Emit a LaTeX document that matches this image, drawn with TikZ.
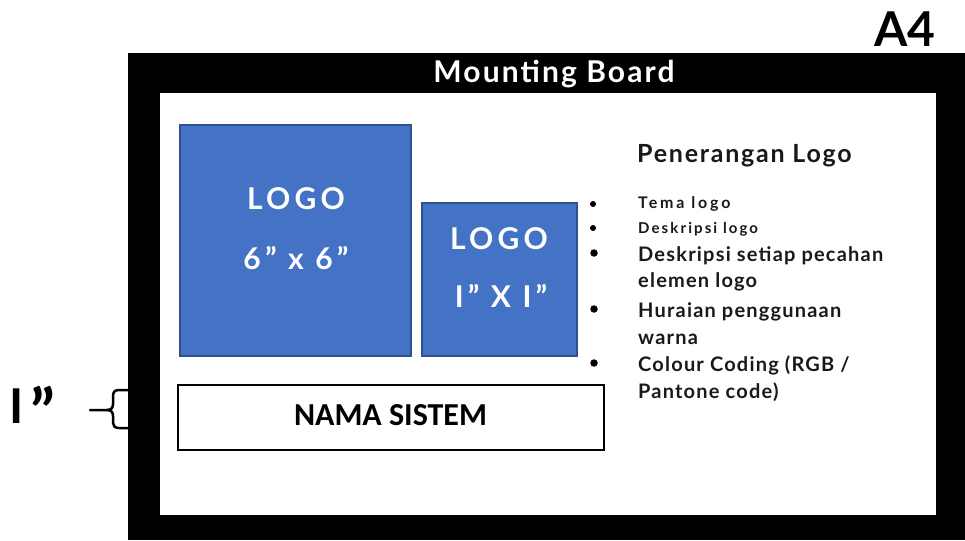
\documentclass[tikz,border=0pt]{standalone}
\usepackage{fontspec}
\setmainfont{Lato}
\newfontfamily\namafont{Carlito}
\definecolor{logoblue}{HTML}{4472C4}
\definecolor{logoedge}{HTML}{2F528F}
\tikzset{
  x=1pt,y=-1pt,
  logobox/.style={draw=logoedge,line width=2pt,fill=logoblue,inner sep=0pt,outer sep=0pt,anchor=north west},
  logotext/.style={anchor=base,inner sep=0pt,text=white,font=\bfseries\fontsize{30}{36}\selectfont\addfontfeature{LetterSpace=14}},
  info/.style={anchor=west,inner sep=0pt,align=left,text=black!90,font=\bfseries\fontsize{20}{26.5}\selectfont\addfontfeature{LetterSpace=6}},
  infosmall/.style={anchor=base west,inner sep=0pt,text=black!90,font=\bfseries\fontsize{15}{18}\selectfont\addfontfeature{LetterSpace=14}},
  bullet/.style={circle,fill=black,inner sep=0pt,minimum size=7.5pt},
  bulletsmall/.style={circle,fill=black,inner sep=0pt,minimum size=6pt},
}
\begin{document}
\begin{tikzpicture}
\useasboundingbox (0,0) rectangle (965,540);
\fill[white] (0,0) rectangle (965,540);
\fill[black] (128,53) rectangle (965,540);
\node[fill=white,inner sep=0pt,outer sep=0pt,minimum width=776pt,minimum height=422pt,anchor=north west] (inner) at (160,93) {};
\node[anchor=base,text=white,font=\bfseries\fontsize{30}{36}\selectfont\addfontfeature{LetterSpace=7},inner sep=0pt] (title) at (554,83) {Mounting Board};
\node[anchor=base,font=\bfseries\fontsize{48}{52}\selectfont,inner sep=0pt] (a4) at (905,47) {A4};
\node[logobox,minimum width=231pt,minimum height=231pt] (l1) at (180,125) {};
\node[logobox,minimum width=155pt,minimum height=153pt] (l2) at (421.5,203) {};
\node[logotext] (l1a) at (296,209) {LOGO};
\node[logotext] (l1b) at (296,269) {6” x 6”};
\node[logotext] (l2a) at (499,249) {LOGO};
\node[logotext] (l2b) at (501,307.5) {I” X I”};
\node[draw=black,line width=2pt,fill=white,minimum width=426pt,minimum height=65pt,anchor=north west,inner sep=0pt,outer sep=0pt] (nama) at (177.5,384.5) {};
\node[anchor=base,inner sep=0pt,font=\namafont\bfseries\fontsize{32}{36}\selectfont] (namat) at (390.5,425) {NAMA SISTEM};
\node[anchor=base west,inner sep=0pt,font=\bfseries\fontsize{25}{30}\selectfont\addfontfeature{LetterSpace=7},text=black!90] (head) at (637,162) {Penerangan Logo};
\node[infosmall,font=\bfseries\fontsize{16}{18}\selectfont\addfontfeature{LetterSpace=18}] (t1) at (638,208) {Tema logo};
\node[infosmall] (t2) at (638,233) {Deskripsi logo};
\node[info] (t3) at (638,269) {Deskripsi setiap pecahan\\elemen logo};
\node[info] (t4) at (638,323.5) {Huraian penggunaan\\warna};
\node[info] (t5) at (638,378.5) {Colour Coding (RGB /\\Pantone code)};
\node[bulletsmall] (b1) at (593,204) {};
\node[bulletsmall] (b2) at (593,228) {};
\node[bullet] (b3) at (594,253) {};
\node[bullet] (b4) at (594,309) {};
\node[bullet] (b5) at (594,363) {};
\node[anchor=base west,font=\bfseries\fontsize{48}{52}\selectfont,inner sep=0pt] (one) at (9,423) {I\hspace{7pt}\raisebox{-12pt}{\fontsize{64}{64}\selectfont ”}};
\coordinate (tip) at (90,410);
\coordinate (bt) at (128,390);
\coordinate (bb) at (128,428);
\draw[line width=2.5pt,line cap=round] (tip) -- (107,410) .. controls (111,410) and (113,408) .. (113,404) -- (113,396) .. controls (113,392) and (115,390) .. (119,390) -- (bt);
\draw[line width=2.5pt,line cap=round] (107,410) .. controls (111,410) and (113,412) .. (113,416) -- (113,423) .. controls (113,426) and (115,428) .. (119,428) -- (bb);
\end{tikzpicture}
\end{document}
